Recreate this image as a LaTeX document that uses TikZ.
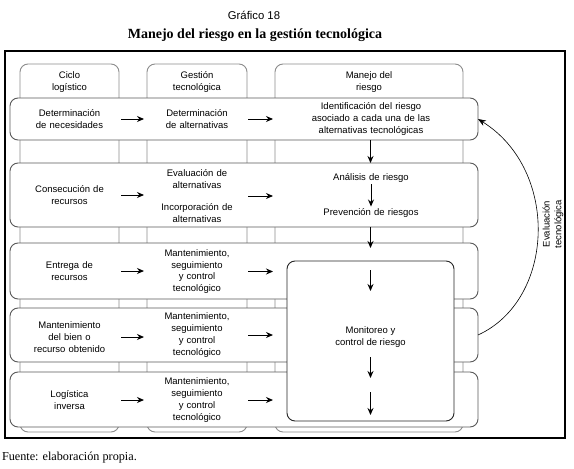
\documentclass[tikz,border=0pt]{standalone}
\usepackage{fontspec}
\setmainfont{Liberation Serif}
\setsansfont{Liberation Sans}
\usetikzlibrary{arrows.meta}

\begin{document}
\begin{tikzpicture}[x=1pt,y=-1pt]
				\tikzstyle{every node}=[font=\sffamily\fontsize{9.5}{11.8}\selectfont,align=center,inner sep=0pt,outer sep=0pt]
				\tikzstyle{columna}=[draw=black!45,line width=0.9pt,rounded corners=8pt,fill=white]
				\tikzstyle{fila}=[draw=black!65,line width=0.9pt,rounded corners=8pt,fill=white]
				\tikzstyle{monitor}=[draw=black!85,line width=0.9pt,rounded corners=8pt,fill=white]
				\tikzstyle{flecha}=[-{Stealth[length=7pt,width=6pt]},line width=1pt]
				\tikzstyle{retorno}=[-{Stealth[length=8pt,width=6pt]},line width=0.6pt]
				\useasboundingbox (0,0) rectangle (574,469);
				% titulos
				\node (graf) at (254,15) {\fontsize{11.3}{13}\selectfont Gráfico 18};
				\node (titulo) at (255,35) {\rmfamily\bfseries\fontsize{14}{16}\selectfont Manejo del riesgo en la gestión tecnológica};
				\node[anchor=west] (fuente) at (2,458) {\rmfamily\fontsize{12.2}{14}\selectfont Fuente: elaboración propia.};
				\draw[line width=2pt] (5,51) rectangle (565,438);
				% columnas
				\node[columna,minimum width=99,minimum height=368] (col1) at (69.5,248) {};
				\node[columna,minimum width=100,minimum height=368] (col2) at (197,248) {};
				\node[columna,minimum width=188,minimum height=368] (col3) at (369,248) {};
				\node (h1) at (69.5,82) {Ciclo\\logístico};
				\node (h2) at (197,82) {Gestión\\tecnológica};
				\node (h3) at (369,82) {Manejo del\\riesgo};
				% filas
				\node[fila,minimum width=468,minimum height=42] (f1) at (244,119) {};
				\node[fila,minimum width=468,minimum height=64] (f2) at (244,195) {};
				\node[fila,minimum width=468,minimum height=56] (f3) at (244,271) {};
				\node[fila,minimum width=468,minimum height=54] (f4) at (244,335) {};
				\node[fila,minimum width=468,minimum height=55] (f5) at (244,399.5) {};
				\node[monitor,minimum width=167,minimum height=160] (mon) at (370.5,341) {};
				% textos
				\node[text width=99] (a1) at (69.5,119) {Determinación\\de necesidades};
				\node[text width=100] (b1) at (197,119) {Determinación\\de alternativas};
				\node[text width=188] (c1) at (371,119) {Identificación del riesgo\\asociado a cada una de las\\alternativas tecnológicas};
				\node[text width=99] (a2) at (69.5,195) {Consecución de\\recursos};
				\node[text width=100] (b2) at (197,196) {Evaluación de\\alternativas\\[11pt]Incorporación de\\alternativas};
				\node[text width=188] (c2) at (371,178) {Análisis de riesgo};
				\node[text width=188] (c3) at (371,213) {Prevención de riesgos};
				\node[text width=99] (a3) at (69.5,271) {Entrega de\\recursos};
				\node[text width=100] (b3) at (197,271.5) {Mantenimiento,\\seguimiento\\y control\\tecnológico};
				\node[text width=99] (a4) at (69.5,337) {Mantenimiento\\del bien o\\recurso obtenido};
				\node[text width=100] (b4) at (197,335) {Mantenimiento,\\seguimiento\\y control\\tecnológico};
				\node[text width=99] (a5) at (69.5,400) {Logística\\inversa};
				\node[text width=100] (b5) at (197,400) {Mantenimiento,\\seguimiento\\y control\\tecnológico};
				\node (mtxt) at (370.5,337) {Monitoreo y\\control de riesgo};
				\node[rotate=90] (eval) at (553,224) {Evaluación\\tecnológica};
				% flechas
				\foreach \r in {1,2,3,4,5}{
					\draw[flecha,shorten <=2pt,shorten >=3pt] (a\r.east) -- (a\r.east -| b1.west);
				}
				\foreach \r in {1,2,3,4,5}{
					\draw[flecha,shorten <=1pt,shorten >=4pt] (b\r.east) -- (b\r.east -| c1.west);
				}
				\draw[flecha] (f1.south -| mon) -- (f2.north -| mon);
				\draw[flecha,shorten <=2pt,shorten >=2pt] (c2) -- (c3);
				\draw[flecha,shorten >=-5pt] (f2.south -| mon) -- (f3.north -| mon);
				\coordinate (m1) at (370.5,270);
				\coordinate (m2) at (370.5,291);
				\coordinate (m3) at (370.5,357);
				\coordinate (m4) at (370.5,378);
				\coordinate (m5) at (370.5,392);
				\coordinate (m6) at (370.5,415);
				\draw[flecha] (m1) -- (m2);
				\draw[flecha] (m3) -- (m4);
				\draw[flecha] (m5) -- (m6);
				\draw[retorno] (f4.east) .. controls (555,300) and (560,170) .. (f1.east);
\end{tikzpicture}
\end{document}
